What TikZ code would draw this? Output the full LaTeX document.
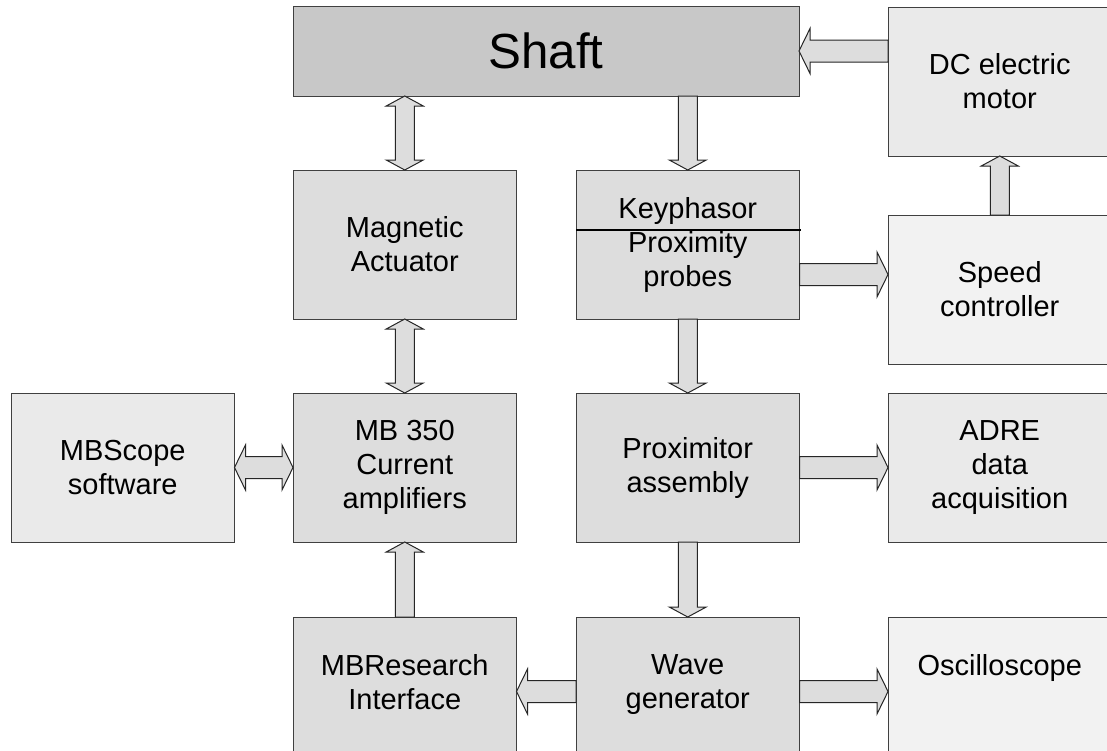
\documentclass[tikz,border=0pt]{standalone}
\usepackage{fontspec}
\setmainfont{Liberation Sans}
\usetikzlibrary{calc}
\definecolor{shaftfill}{HTML}{C8C8C8}
\definecolor{midfill}{HTML}{DDDDDD}
\definecolor{lightfill}{HTML}{EAEAEA}
\definecolor{palefill}{HTML}{F2F2F2}
\definecolor{boxline}{HTML}{404040}
\definecolor{arrowfill}{HTML}{DDDDDD}
\newcommand{\bxfont}{\fontsize{21.75pt}{25.5pt}\selectfont}
\newcommand{\shfont}{\fontsize{37pt}{44pt}\selectfont}
\def\vsw{9.5}\def\vhw{18.5}\def\vhl{10}
\def\hsw{11}\def\hhw{22.5}\def\hhl{11}
\newcommand{\arrdown}[2]{%
 \draw[barrow] ($(#1)+(-\vsw,0)$) -- ($(#2)+(-\vsw,-\vhl)$) -- ($(#2)+(-\vhw,-\vhl)$) -- (#2) -- ($(#2)+(\vhw,-\vhl)$) -- ($(#2)+(\vsw,-\vhl)$) -- ($(#1)+(\vsw,0)$) -- cycle;}
\newcommand{\arrup}[2]{%
 \draw[barrow] ($(#1)+(-\vsw,0)$) -- ($(#2)+(-\vsw,\vhl)$) -- ($(#2)+(-\vhw,\vhl)$) -- (#2) -- ($(#2)+(\vhw,\vhl)$) -- ($(#2)+(\vsw,\vhl)$) -- ($(#1)+(\vsw,0)$) -- cycle;}
\newcommand{\arrvboth}[2]{%
 \draw[barrow] (#1) -- ($(#1)+(\vhw,\vhl)$) -- ($(#1)+(\vsw,\vhl)$) -- ($(#2)+(\vsw,-\vhl)$) -- ($(#2)+(\vhw,-\vhl)$) -- (#2) -- ($(#2)+(-\vhw,-\vhl)$) -- ($(#2)+(-\vsw,-\vhl)$) -- ($(#1)+(-\vsw,\vhl)$) -- ($(#1)+(-\vhw,\vhl)$) -- cycle;}
\newcommand{\arrright}[2]{%
 \draw[barrow] ($(#1)+(0,-\hsw)$) -- ($(#2)+(-\hhl,-\hsw)$) -- ($(#2)+(-\hhl,-\hhw)$) -- (#2) -- ($(#2)+(-\hhl,\hhw)$) -- ($(#2)+(-\hhl,\hsw)$) -- ($(#1)+(0,\hsw)$) -- cycle;}
\newcommand{\arrleft}[2]{%
 \draw[barrow] ($(#1)+(0,-\hsw)$) -- ($(#2)+(\hhl,-\hsw)$) -- ($(#2)+(\hhl,-\hhw)$) -- (#2) -- ($(#2)+(\hhl,\hhw)$) -- ($(#2)+(\hhl,\hsw)$) -- ($(#1)+(0,\hsw)$) -- cycle;}
\newcommand{\arrhboth}[2]{%
 \draw[barrow] (#1) -- ($(#1)+(\hhl,-\hhw)$) -- ($(#1)+(\hhl,-\hsw)$) -- ($(#2)+(-\hhl,-\hsw)$) -- ($(#2)+(-\hhl,-\hhw)$) -- (#2) -- ($(#2)+(-\hhl,\hhw)$) -- ($(#2)+(-\hhl,\hsw)$) -- ($(#1)+(\hhl,\hsw)$) -- ($(#1)+(\hhl,\hhw)$) -- cycle;}
\begin{document}
\begin{tikzpicture}[x=0.75pt,y=-0.75pt,
  box/.style={draw=boxline, line width=0.75pt, minimum width=167.625pt, minimum height=111.75pt,
    inner sep=0pt, outer sep=0pt, align=center, font=\bxfont, anchor=north west},
  boxtext/.style={inner sep=0pt, align=center, font=\bxfont},
  barrow/.style={draw=black!85, fill=arrowfill, line width=0.75pt, line join=miter},
  divider/.style={draw=black, line width=1.5pt}]
\useasboundingbox (0,0) rectangle (1107,750);
\fill[white] (0,0) rectangle (1107,750);
\clip (0,0) rectangle (1107,750);
% boxes
\node[box, fill=shaftfill, minimum width=379.5pt, minimum height=67.5pt, font=\shfont] (shaft) at (293,6) {Shaft};
\node[box, fill=lightfill] (dc) at (888,7) {DC electric\\motor};
\node[box, fill=midfill] (ma) at (293,170) {Magnetic\\Actuator};
\node[box, fill=midfill] (kp) at (576,170) {Keyphasor\\Proximity\\probes};
\node[box, fill=palefill] (sc) at (888,215) {Speed\\controller};
\node[box, fill=lightfill] (ms) at (11,393) {MBScope\\software};
\node[box, fill=midfill] (mb) at (293,393) {MB 350\\Current\\amplifiers};
\node[box, fill=midfill] (pa) at (576,393) {Proximitor\\assembly};
\node[box, fill=lightfill] (adre) at (888,393) {ADRE\\data\\acquisition};
\node[box, fill=midfill] (mbr) at (293,617) {};
\node[box, fill=midfill] (wg) at (576,617) {};
\node[box, fill=palefill] (osc) at (888,617) {};
\node[boxtext, anchor=north] (mbrt) at ([yshift=-27.75pt]mbr.north) {MBResearch\\Interface};
\node[boxtext, anchor=north] (wgt) at ([yshift=-27.75pt]wg.north) {Wave\\generator};
\node[boxtext, anchor=north] (osct) at ([yshift=-27.75pt]osc.north) {Oscilloscope};
% divider in keyphasor box
\coordinate (kpdl) at ($(kp.north west)+(0,60)$);
\coordinate (kpdr) at ($(kp.north east)+(1.5,60)$);
\draw[divider] (kpdl) -- (kpdr);
% helper coordinates
\coordinate (a1) at (ma.north |- shaft.south);
\coordinate (a2) at (kp.north |- shaft.south);
\coordinate (a3) at (dc.west |- shaft.east);
\coordinate (a4) at (sc.north |- dc.south);
\coordinate (kpm) at ($(kp.north east)+(0,104.5)$);
\coordinate (a5) at (sc.west |- kpm);
% arrows
\arrvboth{a1}{ma.north}
\arrdown{a2}{kp.north}
\arrleft{a3}{shaft.east}
\arrup{sc.north}{a4}
\arrright{kpm}{a5}
\arrvboth{ma.south}{mb.north}
\arrdown{kp.south}{pa.north}
\arrhboth{ms.east}{mb.west}
\arrright{pa.east}{adre.west}
\arrdown{pa.south}{wg.north}
\arrup{mbr.north}{mb.south}
\arrleft{wg.west}{mbr.east}
\arrright{wg.east}{osc.west}
\end{tikzpicture}
\end{document}
